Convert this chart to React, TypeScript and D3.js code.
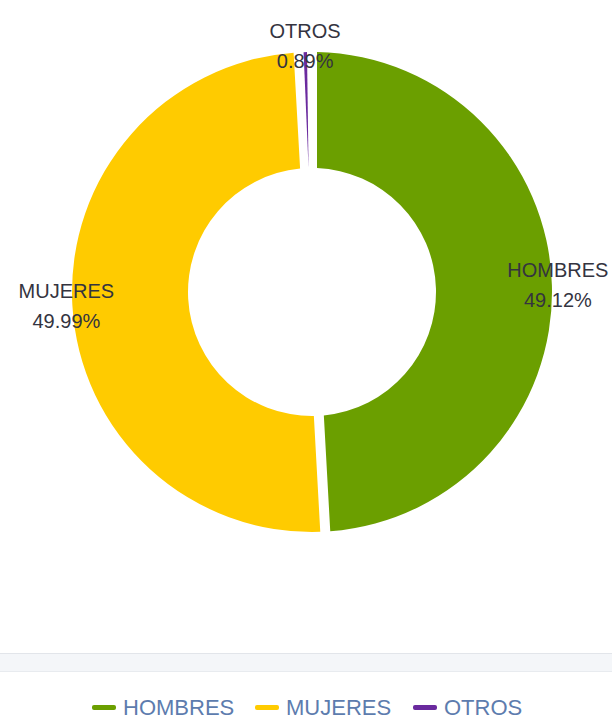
import React, { useEffect, useRef } from "react";
import * as d3 from "d3";

const categories = ["HOMBRES", "MUJERES", "OTROS"];
const values = [49.12, 49.99, 0.89];
const colors = ["#6b9f00", "#ffcb00", "#6a2a9e"];
const valueLabels = ["49.12%", "49.99%", "0.89%"];

const W = 612;
const H = 720;

export default function App() {
  const ref = useRef<SVGSVGElement>(null);

  useEffect(() => {
    const svg = d3.select(ref.current);
    svg.selectAll("*").remove();

    const cx = 312;
    const cy = 292;
    const outerR = 240;
    const innerR = 124;
    const gap = 10;

    const data = categories.map((c, i) => ({ name: c, value: values[i], color: colors[i], label: valueLabels[i] }));

    const pie = d3
      .pie<any>()
      .value((d) => d.value)
      .sort(null)
      .startAngle(0)
      .endAngle(2 * Math.PI);

    const arc = d3
      .arc<any>()
      .innerRadius(innerR)
      .outerRadius(outerR)
      .padAngle(gap / outerR)
      .padRadius(outerR);

    const g = svg.append("g").attr("transform", `translate(${cx},${cy})`);
    const arcs = pie(data);

    g.selectAll("path.slice")
      .data(arcs)
      .enter()
      .append("path")
      .attr("class", "slice")
      .attr("d", arc as any)
      .attr("fill", (d: any) => d.data.color);

    const labelR = 246;
    const lg = g.selectAll("g.lbl").data(arcs).enter().append("g").attr("class", "lbl");
    lg.each(function (d: any) {
      const mid = (d.startAngle + d.endAngle) / 2;
      const x = labelR * Math.sin(mid);
      const y = -labelR * Math.cos(mid);
      const t = d3.select(this);
      t.append("text")
        .attr("x", x)
        .attr("y", y - 8)
        .attr("text-anchor", "middle")
        .attr("font-family", "Liberation Sans, Arial, sans-serif")
        .attr("font-size", 20)
        .attr("fill", "#34343f")
        .text(d.data.name);
      t.append("text")
        .attr("x", x)
        .attr("y", y + 22)
        .attr("text-anchor", "middle")
        .attr("font-family", "Liberation Sans, Arial, sans-serif")
        .attr("font-size", 20)
        .attr("fill", "#34343f")
        .text(d.data.label);
    });

    // gray band
    svg.append("rect").attr("x", 0).attr("y", 653).attr("width", W).attr("height", 19).attr("fill", "#f4f6f9");
    svg.append("line").attr("x1", 0).attr("x2", W).attr("y1", 653.5).attr("y2", 653.5).attr("stroke", "#e2e5ea");
    svg.append("line").attr("x1", 0).attr("x2", W).attr("y1", 671.5).attr("y2", 671.5).attr("stroke", "#e8ebef");

    // legend
    const legendX = [92, 255, 413];
    const legend = svg.append("g");
    data.forEach((d, i) => {
      legend
        .append("rect")
        .attr("x", legendX[i])
        .attr("y", 705)
        .attr("width", 24)
        .attr("height", 5)
        .attr("rx", 2)
        .attr("fill", d.color);
      legend
        .append("text")
        .attr("x", legendX[i] + 31)
        .attr("y", 715)
        .attr("font-family", "Liberation Sans, Arial, sans-serif")
        .attr("font-size", 22)
        .attr("fill", "#5d7cae")
        .text(d.name);
    });
  }, []);

  return (
    <svg
      ref={ref}
      width={W}
      height={H}
      style={{ position: "absolute", top: 0, left: 0, background: "#fff", display: "block" }}
    />
  );
}
